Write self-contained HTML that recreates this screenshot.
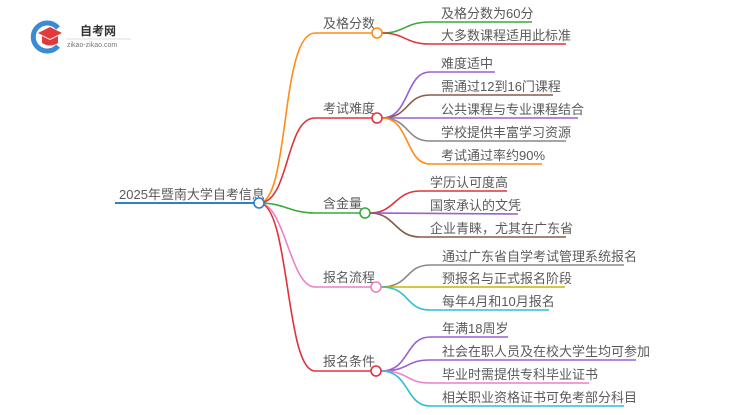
<!DOCTYPE html>
<html><head><meta charset="utf-8"><style>
body{margin:0;width:750px;height:410px;background:#fff;overflow:hidden;font-family:"Liberation Sans","Noto Sans CJK SC",sans-serif}
svg text{font-family:"Liberation Sans","Noto Sans CJK SC",sans-serif;fill:#5a5a5a;font-size:13px}
</style></head><body>
<svg width="750" height="410" viewBox="0 0 750 410" xmlns="http://www.w3.org/2000/svg" fill="none" stroke-width="1.6">
<path d="M58 28 A14 14 0 1 0 58 46" stroke="#3a8ad6" stroke-width="5"/>
<path d="M38 33 L50 27 L62 33 L50 39 Z" fill="#e03a3a" stroke="none"/>
<path d="M42 36 L42 43 Q50 48 58 43 L58 36 L50 40 Z" fill="#e03a3a" stroke="none"/>
<text x="80" y="35" style="font-size:12px;font-weight:bold;fill:#333">自考网</text>
<line x1="66" y1="39" x2="131" y2="39" stroke="#ddd" stroke-width="1"/>
<text x="67" y="47" style="font-size:7px;fill:#777">zikao-zikao.com</text>

<text x="119" y="199">2025年暨南大学自考信息</text>
<line x1="115" y1="203" x2="254" y2="203" stroke="#2f7fd0" stroke-width="2"/>
<path d="M259 203 C290 203 280 33 315 33 L372 33" stroke="#ff8c1a"/>
<path d="M259 203 C290 203 285 118 315 118 L372 118" stroke="#e0333a"/>
<path d="M259 203 C285 203 290 213 315 213 L360 213" stroke="#3aaa3a"/>
<path d="M259 203 C285 203 290 287 315 287 L372 287" stroke="#ee7fc8"/>
<path d="M259 203 C290 203 285 371 315 371 L372 371" stroke="#e0333a"/>
<circle cx="259" cy="203" r="5" stroke="#2f7fd0" fill="#fff"/>

<text x="323" y="28">及格分数</text>
<text x="323" y="113">考试难度</text>
<text x="323" y="208">含金量</text>
<text x="323" y="282">报名流程</text>
<text x="323" y="366">报名条件</text>

<path d="M382 33 C405 33 405 22 430 22 L532 22" stroke="#3aaa3a"/>
<path d="M382 33 C405 33 405 44 430 44 L566 44" stroke="#e0333a"/>
<circle cx="377" cy="33" r="5" stroke="#ff8c1a" fill="#fff"/>
<text x="441" y="18">及格分数为60分</text>
<text x="441" y="40">大多数课程适用此标准</text>

<path d="M382 118 C410 118 405 72 430 72 L495 72" stroke="#9b5fd0"/>
<path d="M382 118 C410 118 405 95 430 95 L553 95" stroke="#8b5a4a"/>
<path d="M382 118 L578 118" stroke="#9b5fd0"/>
<path d="M382 118 C410 118 405 141 430 141 L566 141" stroke="#888"/>
<path d="M382 118 C410 118 405 164 430 164 L542 164" stroke="#ff8c1a"/>
<circle cx="377" cy="118" r="5" stroke="#e0333a" fill="#fff"/>
<text x="441" y="68">难度适中</text>
<text x="441" y="91">需通过12到16门课程</text>
<text x="441" y="114">公共课程与专业课程结合</text>
<text x="441" y="137">学校提供丰富学习资源</text>
<text x="441" y="160">考试通过率约90%</text>

<path d="M370 213 C395 213 395 191 420 191 L507 191" stroke="#e0333a"/>
<path d="M370 213 L518 214" stroke="#9b5fd0"/>
<path d="M370 213 C395 213 395 237 420 237 L566 237" stroke="#8b5a4a"/>
<circle cx="365" cy="213" r="5" stroke="#3aaa3a" fill="#fff"/>
<text x="430" y="187">学历认可度高</text>
<text x="430" y="210">国家承认的文凭</text>
<text x="430" y="233">企业青睐，尤其在广东省</text>

<path d="M381 287 C410 287 405 265 430 265 L624 265" stroke="#888"/>
<path d="M381 287 L565 287" stroke="#c8b400"/>
<path d="M381 287 C410 287 405 310 430 310 L549 310" stroke="#28c0d8"/>
<circle cx="376" cy="287" r="5" stroke="#ee7fc8" fill="#fff"/>
<text x="442" y="261">通过广东省自学考试管理系统报名</text>
<text x="442" y="283">预报名与正式报名阶段</text>
<text x="442" y="306">每年4月和10月报名</text>

<path d="M381 371 C410 371 405 337 430 337 L508 337" stroke="#9b5fd0"/>
<path d="M381 371 C410 371 405 360 430 360 L636 360" stroke="#9b5fd0"/>
<path d="M381 371 C410 371 405 383 430 383 L589 383" stroke="#ee7fc8"/>
<path d="M381 371 C410 371 405 406 430 406 L624 406" stroke="#28c0d8"/>
<circle cx="376" cy="371" r="5" stroke="#e0333a" fill="#fff"/>
<text x="442" y="333">年满18周岁</text>
<text x="442" y="356">社会在职人员及在校大学生均可参加</text>
<text x="442" y="379">毕业时需提供专科毕业证书</text>
<text x="442" y="402">相关职业资格证书可免考部分科目</text>
</svg>
</body></html>
